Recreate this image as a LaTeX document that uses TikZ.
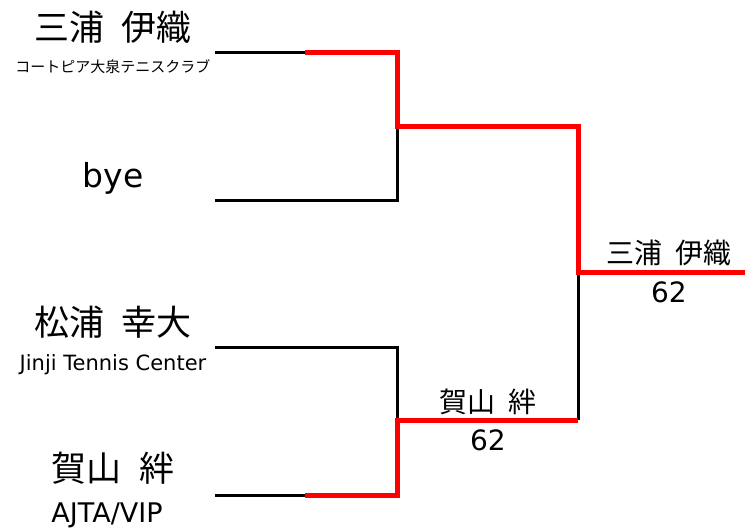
\documentclass[tikz,border=0pt]{standalone}
\usepackage{fontspec}
\setmainfont{DejaVu Sans}
\newfontfamily\jpfont[WordSpace=2.2]{Noto Sans CJK JP}
\usetikzlibrary{positioning}

\begin{document}
\begin{tikzpicture}[x=1pt,y=-1pt,
        player/.style={inner sep=0pt,font=\jpfont\fontsize{35}{40}\selectfont},
        club/.style={inner sep=0pt,font=\jpfont\fontsize{15}{18}\selectfont},
        winner/.style={inner sep=0pt,font=\jpfont\fontsize{28}{32}\selectfont},
        score/.style={inner sep=0pt,font=\fontsize{28}{32}\selectfont},
        lose/.style={black,line width=3pt},
        win/.style={red,line width=5pt}]
        \useasboundingbox (0,0) rectangle (745,531);
        % players
        \node[player] (p1) at (113,27) {三浦 伊織};
        \node[club, below=16pt of p1] (c1) {コートピア大泉テニスクラブ};
        \node[player,font=\fontsize{33}{38}\selectfont] (p2) at (113,178) {bye};
        \node[player] (p3) at (113,322) {松浦 幸大};
        \node[club,font=\fontsize{21}{24}\selectfont, below=16pt of p3] (c3) {Jinji Tennis Center};
        \node[player] (p4) at (113,468) {賀山 絆};
        \node[club,font=\fontsize{27}{32}\selectfont, below=18pt of p4,xshift=-6pt] (c4) {AJTA/VIP};
        % lines
        \coordinate (a1) at (215,52); \coordinate (a1r) at (305,52);
        \coordinate (a2) at (215,200);
        \coordinate (a3) at (215,347);
        \coordinate (a4) at (215,495); \coordinate (a4r) at (305,495);
        \coordinate (s1) at (397,126); \coordinate (s2) at (397,420);
        \coordinate (t1) at (578,126); \coordinate (t2) at (578,420);
        \coordinate (f) at (578,272); \coordinate (fe) at (745,272);
        \draw[lose] (a1) -- (a1r);
        \draw[lose] (a2) -| (s1);
        \draw[lose] (a3) -| (s2);
        \draw[lose] (a4) -- (a4r);
        \draw[lose] (t2) -- (f);
        \draw[win] (a1r) -| (s1) -- (t1) -- (f) -- (fe);
        \draw[win] (a4r) -| (s2) -- (t2);
        % results
        \node[winner] (w2) at (488,402) {賀山 絆};
        \node[score] (sc2) at (488,440) {62};
        \node[winner] (w1) at (669,253) {三浦 伊織};
        \node[score] (sc1) at (669,292) {62};
\end{tikzpicture}
\end{document}
